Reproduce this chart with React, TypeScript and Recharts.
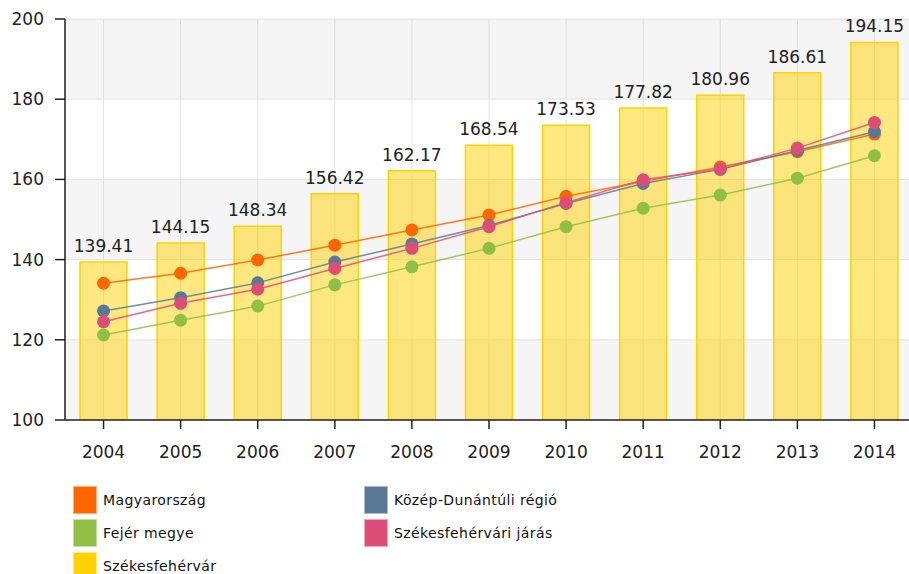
import React from "react";
import {
    ComposedChart,
    Bar,
    Line,
    XAxis,
    YAxis,
    CartesianGrid,
    Legend,
    LabelList,
    ReferenceArea,
} from "recharts";

const years = ["2004", "2005", "2006", "2007", "2008", "2009", "2010", "2011", "2012", "2013", "2014"];
const szekesfehervar = [139.41, 144.15, 148.34, 156.42, 162.17, 168.54, 173.53, 177.82, 180.96, 186.61, 194.15];
const magyarorszag = [134.1, 136.6, 139.9, 143.6, 147.4, 151.1, 155.8, 159.5, 163.1, 166.9, 171.3];
const kozepDunantul = [127.2, 130.5, 134.2, 139.4, 143.9, 148.5, 154.0, 159.0, 162.5, 167.2, 171.9];
const fejer = [121.2, 124.9, 128.4, 133.7, 138.2, 142.8, 148.2, 152.8, 156.1, 160.3, 165.9];
const jaras = [124.5, 129.1, 132.6, 137.8, 142.8, 148.2, 154.2, 159.9, 162.6, 167.8, 174.2];
const yTicks = [100, 120, 140, 160, 180, 200];
// gray bands of the plot background (every other tick interval)
const bands = [
    [180, 200],
    [140, 160],
    [100, 120],
];

const legendItems = [
    { name: "Magyarország", color: "#ff6600" },
    { name: "Közép-Dunántúli régió", color: "#5b7899" },
    { name: "Fejér megye", color: "#8fc045" },
    { name: "Székesfehérvári járás", color: "#de4d78" },
    { name: "Székesfehérvár", color: "#ffd200" },
];

const data = years.map((year, i) => ({
    year,
    szekesfehervar: szekesfehervar[i],
    magyarorszag: magyarorszag[i],
    kozepDunantul: kozepDunantul[i],
    fejer: fejer[i],
    jaras: jaras[i],
}));

const font = "'DejaVu Sans', Verdana, sans-serif";

function ChartLegend() {
    return (
        <div
            style={{
                display: "grid",
                gridTemplateColumns: "291px 300px",
                gridAutoRows: "33px",
                fontFamily: font,
                fontSize: 14,
                letterSpacing: 0.4,
                color: "#111",
            }}
        >
            {legendItems.map((it) => (
                <div key={it.name} style={{ display: "flex", alignItems: "center", height: 28 }}>
                    <span
                        style={{
                            width: 24,
                            height: 28,
                            background: it.color,
                            boxSizing: "border-box",
                            border: "1px solid rgba(255,255,255,0.5)",
                            marginRight: 6,
                        }}
                    />
                    <span>{it.name}</span>
                </div>
            ))}
        </div>
    );
}

function series(key: string, color: string) {
    return (
        <Line
            dataKey={key}
            type="linear"
            stroke={color}
            strokeWidth={1.5}
            strokeOpacity={0.85}
            dot={{ r: 6.5, fill: color, stroke: "none", fillOpacity: 1 }}
            activeDot={false}
            isAnimationActive={false}
        />
    );
}

export default function App() {
    return (
        <div
            style={{
                position: "fixed",
                left: 0,
                top: 0,
                width: 909,
                height: 574,
                overflow: "hidden",
                background: "#fff",
            }}
        >
            <ComposedChart
                width={913}
                height={574}
                data={data}
                margin={{ top: 19, right: 0, left: 0, bottom: 114 }}
                barSize={47}
            >
                <CartesianGrid stroke="#e6e6e6" />
                {bands.map(([y1, y2]) => (
                    <ReferenceArea
                        key={y1}
                        y1={y1}
                        y2={y2}
                        fill="#000"
                        fillOpacity={0.04}
                        stroke="none"
                    />
                ))}
                <XAxis
                    dataKey="year"
                    height={40}
                    stroke="#222"
                    strokeWidth={1.5}
                    tickSize={9}
                    tickMargin={17}
                    tick={{ fontSize: 17, fill: "#222", fontFamily: font }}
                />
                <YAxis
                    width={65}
                    domain={[100, 200]}
                    ticks={yTicks}
                    allowDataOverflow
                    stroke="#222"
                    strokeWidth={1.5}
                    tickSize={10}
                    tickMargin={11}
                    tick={{ fontSize: 17, fill: "#222", fontFamily: font }}
                />
                <Bar
                    dataKey="szekesfehervar"
                    fill="#ffd200"
                    fillOpacity={0.5}
                    stroke="#ffd200"
                    strokeWidth={1.5}
                    isAnimationActive={false}
                >
                    <LabelList
                        dataKey="szekesfehervar"
                        position="top"
                        offset={10}
                        style={{ fontSize: 17, fill: "#222", fontFamily: font }}
                        formatter={(v: number) => v.toFixed(2)}
                    />
                </Bar>
                {series("magyarorszag", "#ff6600")}
                {series("kozepDunantul", "#5b7899")}
                {series("fejer", "#8fc045")}
                {series("jaras", "#de4d78")}
                <Legend
                    layout="horizontal"
                    verticalAlign="middle"
                    align="center"
                    wrapperStyle={{ top: 486, left: 73, width: 640 }}
                    content={() => <ChartLegend />}
                />
            </ComposedChart>
        </div>
    );
}
